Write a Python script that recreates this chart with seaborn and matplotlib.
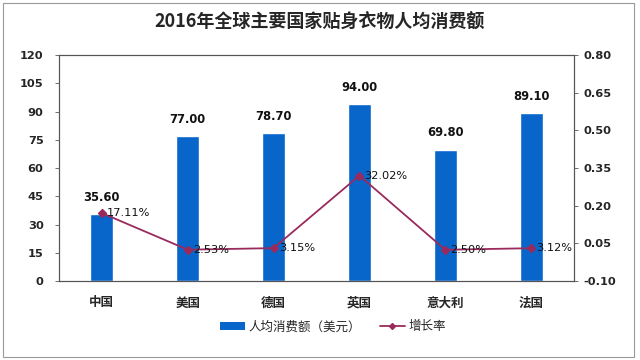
import matplotlib
matplotlib.use("Agg")
import matplotlib.pyplot as plt
import seaborn as sns
import pandas as pd
from matplotlib.patches import Rectangle
from matplotlib.lines import Line2D
from matplotlib.patches import Patch

sns.set_style("white")
plt.rcParams['font.family'] = ['Noto Sans CJK SC', 'DejaVu Sans']

countries = ["中国", "美国", "德国", "英国", "意大利", "法国"]
spend = [35.60, 77.00, 78.70, 94.00, 69.80, 89.10]
growth = [0.1711, 0.0253, 0.0315, 0.3202, 0.0250, 0.0312]
growth_labels = ["17.11%", "2.53%", "3.15%", "32.02%", "2.50%", "3.12%"]
left_ticks = [0, 15, 30, 45, 60, 75, 90, 105, 120]
right_ticks = [-0.10, 0.05, 0.20, 0.35, 0.50, 0.65, 0.80]

df = pd.DataFrame({"country": countries, "spend": spend, "growth": growth})

bar_color = "#0866CB"
line_color = "#9B2A5C"
num_font = "DejaVu Sans"

fig = plt.figure(figsize=(6.4, 3.6), dpi=100)
fig.patches.append(Rectangle((0.005, 0.008), 0.985, 0.985, transform=fig.transFigure,
                             fill=False, edgecolor="#9a9a9a", linewidth=0.8))
ax = fig.add_axes([0.092, 0.219, 0.805, 0.628])
sns.barplot(data=df, x="country", y="spend", color=bar_color, width=0.27,
            saturation=1, ax=ax, zorder=2)
ax.set_ylim(0, 120)
ax.set_yticks(left_ticks)
ax.set_yticklabels([str(t) for t in left_ticks], fontsize=8.2, fontweight="bold", family=num_font)
ax.set_xlabel("")
ax.set_ylabel("")
ax.set_xlim(-0.5, 5.5)
ax.set_xticks([i + 0.5 for i in range(-1, 6)], minor=True)
ax.tick_params(axis="x", which="major", length=0, labelsize=9, pad=11)
ax.tick_params(axis="x", which="minor", length=3, direction="out", width=0.6, color="#555555")
ax.tick_params(axis="y", length=3, direction="out", width=0.6, color="#555555", pad=8)
for lbl in ax.get_xticklabels():
    lbl.set_fontweight("bold")
for s in ax.spines.values():
    s.set_color("#555555")
    s.set_linewidth(0.8)
for i, v in enumerate(spend):
    ax.text(i, v + 5.5, f"{v:.2f}", ha="center", va="bottom", fontsize=8.3,
            fontweight="bold", family=num_font, color="#111111")

ax2 = ax.twinx()
sns.pointplot(data=df, x="country", y="growth", color=line_color, markers="D",
              markersize=4, linewidth=1.3, ax=ax2)
ax2.set_ylim(-0.10, 0.80)
ax2.set_yticks(right_ticks)
ax2.set_yticklabels([f"{t:.2f}" for t in right_ticks], fontsize=8.2, fontweight="bold",
                    family=num_font)
ax2.set_ylabel("")
ax2.set_xlabel("")
ax2.set_xlim(-0.5, 5.5)
ax2.tick_params(axis="y", length=3, direction="out", width=0.6, color="#555555", pad=4)
for s in ax2.spines.values():
    s.set_color("#555555")
    s.set_linewidth(0.8)
for i, (g, t) in enumerate(zip(growth, growth_labels)):
    ax2.text(i + 0.06, g, t, ha="left", va="center", fontsize=8.2, family=num_font,
             color="#111111")

fig.text(0.5, 0.937, "2016年全球主要国家贴身衣物人均消费额", ha="center", va="center",
         fontsize=13, fontweight="bold")

handles = [Patch(facecolor=bar_color, edgecolor="none"),
           Line2D([0], [0], color=line_color, marker="D", markersize=3, linewidth=1.3)]
fig.legend(handles, ["人均消费额（美元）", "增长率"], loc="center", bbox_to_anchor=(0.52, 0.092),
           ncol=2, frameon=False, fontsize=9, handlelength=2.0, handletextpad=0.3,
           columnspacing=1.5)

fig.savefig("out.png", dpi=100)
